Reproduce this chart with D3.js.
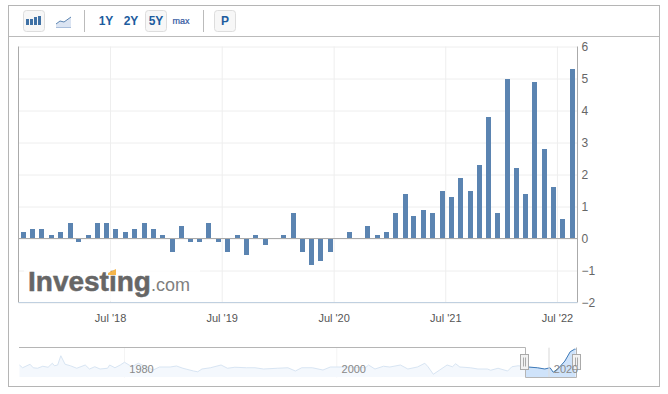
<!DOCTYPE html>
<html>
<head>
<meta charset="utf-8">
<script src="https://cdn.jsdelivr.net/npm/d3@7"></script>
<style>
  body { margin: 0; background: #fff; }
  svg { display: block; font-family: "Liberation Sans", Arial, sans-serif; }
  .grid line { stroke: #eeeeee; }
  .grid path { display: none; }
  .y-axis path, .y-axis line, .x-axis path, .x-axis line, .nav-axis path, .nav-axis line { display: none; }
  .y-axis text { font-size: 12px; fill: #666; }
  .x-axis text { font-size: 11px; fill: #555; }
  .nav-axis text { font-size: 11px; fill: #888; }
  .tool { fill: #f7f7f7; stroke: #ddd; }
  .tool-label { font-size: 12px; font-weight: bold; fill: #1d5c9e; text-anchor: middle; }
</style>
</head>
<body>
<div id="wrapper"></div>
<script>
// monthly change, one bar per month
const months = [
  "2017-09","2017-10","2017-11","2017-12",
  "2018-01","2018-02","2018-03","2018-04","2018-05","2018-06","2018-07","2018-08","2018-09","2018-10","2018-11","2018-12",
  "2019-01","2019-02","2019-03","2019-04","2019-05","2019-06","2019-07","2019-08","2019-09","2019-10","2019-11","2019-12",
  "2020-01","2020-02","2020-03","2020-04","2020-05","2020-06","2020-07","2020-08","2020-09","2020-10","2020-11","2020-12",
  "2021-01","2021-02","2021-03","2021-04","2021-05","2021-06","2021-07","2021-08","2021-09","2021-10","2021-11","2021-12",
  "2022-01","2022-02","2022-03","2022-04","2022-05","2022-06","2022-07","2022-08",
]
const values = [
  0.2, 0.3, 0.3, 0.1,
  0.2, 0.5, -0.1, 0.1, 0.5, 0.5, 0.3, 0.2, 0.3, 0.5, 0.3, 0.1,
  -0.4, 0.4, -0.1, -0.1, 0.5, -0.1, -0.4, 0.1, -0.5, 0.1, -0.2, 0,
  0.1, 0.8, -0.4, -0.8, -0.7, -0.4, 0, 0.2, 0, 0.4, 0.1, 0.2,
  0.8, 1.4, 0.7, 0.9, 0.8, 1.5, 1.3, 1.9, 1.5, 2.3, 3.8, 0.8,
  5.0, 2.2, 1.4, 4.9, 2.8, 1.6, 0.6, 5.3,
]
const yTicks = [-2, -1, 0, 1, 2, 3, 4, 5, 6]
const xTickDates = ["2018-07-01", "2019-07-01", "2020-07-01", "2021-07-01", "2022-07-01"]
const xTickLabels = ["Jul '18", "Jul '19", "Jul '20", "Jul '21", "Jul '22"]

// navigator strip, whole history
const navYears = [
  1970.1,1970.4,1971.1,1971.4,1971.8,1972.3,1972.8,1973.2,1973.4,1973.7,1974.0,1974.4,1974.9,1975.5,1976.3,1976.7,
  1977.2,1977.7,1978.4,1978.6,1979.1,1979.6,1980.0,1980.7,1981.3,1982.7,1983.3,1984.3,1984.9,1985.5,1986.5,1986.9,
  1987.3,1988.1,1989.1,1989.7,1990.4,1991.5,1992.3,1993.1,1994.4,1995.4,1996.1,1996.7,1997.7,1998.7,1999.4,2000.3,
  2001.3,2002.7,2003.0,2003.6,2004.4,2005.0,2006.0,2006.7,2007.6,2008.3,2008.6,2009.1,2009.7,2010.4,2010.9,2011.2,
  2011.6,2012.6,2013.3,2014.2,2014.5,2015.2,2016.1,2016.5,2017.1,2018.0,2018.9,2019.6,2020.1,2020.4,2020.9,2021.5,
  2022.0,2022.4,2022.5,
]
const navValues = [
  2.0,0.9,2.3,0.9,0.7,1.5,1.1,2.7,1.7,2.0,5.7,2.3,1.7,0.7,2.0,0.4,
  1.3,0.4,0.7,2.0,0.9,2.0,3.1,1.3,2.7,0.0,1.2,1.2,1.6,0.7,-0.4,-0.7,
  0.4,0.9,2.0,0.7,1.1,0.9,0.9,0.4,0.7,0.9,-0.4,0.9,0.9,0.0,1.2,1.2,
  1.2,0.9,2.0,0.4,1.5,1.2,2.0,0.4,1.2,2.7,1.3,-1.7,0.0,2.0,1.3,2.5,
  1.2,0.9,0.4,0.4,-0.1,0.7,-0.4,1.3,1.7,1.2,0.9,0.4,0.9,-0.9,0.7,3.6,
  7.3,8.3,8.3,
]
const navTickYears = [1980, 2000, 2020]

async function drawChart() {
  const dimensions = {
    width: 668,
    height: 394,
    plotLeft: 18.5,
    plotRight: 577.5,
    plotTop: 46.5,
    plotBottom: 302.5,
    navTop: 347.5,
    navBottom: 377.5,
    navLeft: 19,
    navRight: 576,
    selLeft: 525,
  }
  const d = dimensions

  const svg = d3.select("#wrapper").append("svg")
      .attr("width", d.width)
      .attr("height", d.height)

  const parseMonth = d3.timeParse("%Y-%m-%d")
  const barDate = m => parseMonth(m + "-22")

  // scales
  const xScale = d3.scaleTime()
    .domain([barDate(months[0]), barDate(months[months.length - 1])])
    .range([23.3, 572.3])
  const yScale = d3.scaleLinear().domain([-2, 6]).range([d.plotBottom, d.plotTop])
  const navX = d3.scaleLinear().domain([1980, 2020]).range([124.5, 549])
  const navY = d3.scaleLinear().domain([-2.8, 8.8]).range([d.navBottom - 0.5, 348])
  const xTicks = xTickDates.map(parseMonth)

  // outer frame and toolbar
  svg.append("rect").attr("x", 8.5).attr("y", 5.5).attr("width", 651).attr("height", 381)
      .attr("fill", "#fff").attr("stroke", "#b5b5b5")
  svg.append("line").attr("x1", 9).attr("x2", 659).attr("y1", 36.5).attr("y2", 36.5).attr("stroke", "#bbb")

  const toolbar = svg.append("g")
  const buttons = [[23.5, 21], [145.5, 21], [214.5, 21]]
  toolbar.selectAll(".tool").data(buttons).enter().append("rect")
      .attr("class", "tool")
      .attr("x", b => b[0]).attr("y", 10.5)
      .attr("width", b => b[1]).attr("height", 21).attr("rx", 3)
  toolbar.selectAll(".sep").data([84.5, 203.5]).enter().append("line")
      .attr("x1", s => s).attr("x2", s => s).attr("y1", 10).attr("y2", 32).attr("stroke", "#bbb")
  toolbar.selectAll(".tool-label").data([["1Y", 106], ["2Y", 131], ["5Y", 156], ["P", 225]]).enter().append("text")
      .attr("class", "tool-label")
      .attr("x", t => t[1]).attr("y", 25)
      .text(t => t[0])
  toolbar.append("text").attr("x", 181).attr("y", 24).attr("text-anchor", "middle")
      .style("font-size", "9px").attr("fill", "#2f55a0").attr("stroke", "#2f55a0").attr("stroke-width", 0.2).text("max")
  // column icon
  toolbar.selectAll(".icon-bar").data([[26, 19, 6], [30, 20, 6], [34, 17, 8], [38, 16, 9]]).enter().append("rect")
      .attr("x", i => i[0]).attr("y", i => 25 - i[2])
      .attr("width", 3).attr("height", i => i[2]).attr("fill", "#3f71a5")
  // line icon
  toolbar.append("path").attr("d", "M56 24L60 21L64 22L71 17V27H56Z").attr("fill", "#dbe4f2")
  toolbar.append("path").attr("d", "M56 24L60 21L64 22L71 17").attr("fill", "none").attr("stroke", "#5b84b1")
  toolbar.append("line").attr("x1", 56).attr("x2", 71).attr("y1", 27.5).attr("y2", 27.5).attr("stroke", "#a9bedb")

  // grid
  const gridX = svg.append("g").attr("class", "grid")
      .attr("transform", `translate(0.5, ${d.plotBottom})`)
      .call(d3.axisBottom(xScale).tickValues(xTicks).tickSize(-(d.plotBottom - d.plotTop)).tickFormat(""))
  const gridY = svg.append("g").attr("class", "grid")
      .attr("transform", `translate(${d.plotRight}, 0)`)
      .call(d3.axisLeft(yScale).tickValues(yTicks).tickSize(d.plotRight - d.plotLeft).tickFormat(""))

  // watermark
  svg.append("rect").attr("x", 24).attr("y", 263).attr("width", 176).attr("height", 38)
      .attr("fill", "#fff").attr("opacity", 0.8)
  const logo = svg.append("text").attr("x", 28).attr("y", 291)
  logo.append("tspan").text("Investing")
      .style("font-size", "28px").style("font-weight", "bold")
      .attr("fill", "#666").attr("stroke", "#666").attr("stroke-width", 0.5)
  logo.append("tspan").text(".com")
      .style("font-size", "18px").attr("fill", "#808080")
  svg.append("path").attr("d", "M108 273L116 269V275H108Z").attr("fill", "#f5b64a")

  // bars
  const barWidth = 5
  svg.selectAll(".bar").data(values).enter().append("rect")
      .attr("class", "bar")
      .attr("x", (v, i) => Math.round(xScale(barDate(months[i])) - barWidth / 2))
      .attr("width", barWidth)
      .attr("y", v => Math.round(yScale(Math.max(v, 0))))
      .attr("height", v => Math.round(Math.abs(yScale(v) - yScale(0))))
      .attr("fill", "#5b84b1")

  // frame lines of the plot
  svg.append("line").attr("x1", d.plotLeft).attr("x2", d.plotLeft).attr("y1", d.plotTop).attr("y2", d.plotBottom).attr("stroke", "#aaa")
  svg.append("line").attr("x1", d.plotRight).attr("x2", d.plotRight).attr("y1", d.plotTop).attr("y2", d.plotBottom).attr("stroke", "#aaa")
  svg.append("line").attr("x1", d.plotLeft).attr("x2", d.plotRight).attr("y1", yScale(0)).attr("y2", yScale(0)).attr("stroke", "#aaa")
  svg.append("line").attr("x1", d.plotLeft).attr("x2", d.plotRight).attr("y1", d.plotBottom).attr("y2", d.plotBottom).attr("stroke", "#c0d0e0")

  // axes
  svg.append("g").attr("class", "y-axis")
      .attr("transform", `translate(${d.plotRight - 6}, 4)`)
      .call(d3.axisRight(yScale).tickValues(yTicks).tickSize(0).tickPadding(10))
      .selectAll("text").attr("dy", 0)
  svg.append("g").attr("class", "x-axis")
      .attr("transform", `translate(0.5, ${d.plotBottom + 9})`)
      .call(d3.axisBottom(xScale).tickValues(xTicks).tickSize(0)
        .tickFormat((t, i) => xTickLabels[i]))

  // navigator
  const nav = svg.append("g")
  const navData = navYears.map((y, i) => ({ year: y, value: navValues[i] }))
  const navLine = d3.line().x(n => navX(n.year)).y(n => navY(n.value))
  const navArea = d3.area().x(n => navX(n.year)).y0(d.navBottom - 0.5).y1(n => navY(n.value))

  nav.selectAll(".nav-grid").data(navTickYears).enter().append("line")
      .attr("x1", y => navX(y)).attr("x2", y => navX(y))
      .attr("y1", d.navTop).attr("y2", d.navBottom).attr("stroke", "#f4f4f4")

  svg.append("clipPath").attr("id", "nav-selected").append("rect")
      .attr("x", d.selLeft).attr("y", d.navTop).attr("width", d.navRight - d.selLeft).attr("height", d.navBottom - d.navTop)

  nav.append("path").attr("d", navArea(navData)).attr("fill", "#f4f8fd")
  nav.append("path").attr("d", navLine(navData)).attr("fill", "none").attr("stroke", "#d8e5f3")
  const selected = nav.append("g").attr("clip-path", "url(#nav-selected)")
  selected.append("path").attr("d", navArea(navData)).attr("fill", "#cfe3fa")
  selected.append("path").attr("d", navLine(navData)).attr("fill", "none").attr("stroke", "#3f7ab8")
  selected.append("line").attr("x1", navX(2020)).attr("x2", navX(2020)).attr("y1", d.navTop).attr("y2", d.navBottom).attr("stroke", "#ddd")

  nav.append("path")
      .attr("d", `M${d.navLeft} ${d.navTop}H${d.selLeft + 0.5}V${d.navBottom}H${d.navRight + 0.5}V${d.navTop}`)
      .attr("fill", "none").attr("stroke", "#b5b5b5")

  svg.append("g").attr("class", "nav-axis")
      .attr("transform", "translate(16.5, 362)")
      .call(d3.axisBottom(navX).tickValues(navTickYears).tickSize(0).tickFormat(d3.format("d")))

  nav.selectAll(".handle").data([524.5, 576.5]).enter().append("g")
      .attr("transform", h => `translate(${h}, 354.5)`)
      .each(function() {
        const g = d3.select(this)
        g.append("rect").attr("x", -4).attr("width", 8).attr("height", 15).attr("fill", "#f2f2f2").attr("stroke", "#aaa")
        g.append("line").attr("x1", -1).attr("x2", -1).attr("y1", 3).attr("y2", 12).attr("stroke", "#aaa")
        g.append("line").attr("x1", 1).attr("x2", 1).attr("y1", 3).attr("y2", 12).attr("stroke", "#aaa")
      })
}
drawChart()
</script>
</body>
</html>
